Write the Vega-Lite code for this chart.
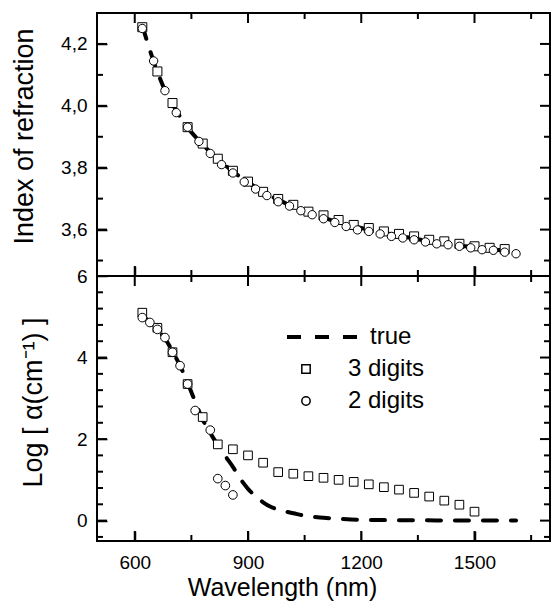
{
  "$schema": "https://vega.github.io/schema/vega-lite/v6.json",
  "padding": {"left": 8, "top": 12, "right": 4, "bottom": 4},
  "spacing": 0,
  "bounds": "flush",
  "background": "white",
  "datasets": {
    "n_true": [
      {"wl": 620, "n": 4.26}, {"wl": 640, "n": 4.18}, {"wl": 660, "n": 4.11}, {"wl": 680, "n": 4.05},
      {"wl": 700, "n": 4.005}, {"wl": 740, "n": 3.93}, {"wl": 780, "n": 3.875}, {"wl": 820, "n": 3.828},
      {"wl": 860, "n": 3.788}, {"wl": 900, "n": 3.753}, {"wl": 950, "n": 3.715}, {"wl": 1000, "n": 3.685},
      {"wl": 1050, "n": 3.658}, {"wl": 1100, "n": 3.638}, {"wl": 1150, "n": 3.62}, {"wl": 1200, "n": 3.605},
      {"wl": 1250, "n": 3.592}, {"wl": 1300, "n": 3.58}, {"wl": 1350, "n": 3.569}, {"wl": 1400, "n": 3.559},
      {"wl": 1450, "n": 3.55}, {"wl": 1500, "n": 3.543}, {"wl": 1550, "n": 3.536}, {"wl": 1610, "n": 3.528}
    ],
    "n3": [
      {"wl": 620, "n": 4.254}, {"wl": 660, "n": 4.111}, {"wl": 700, "n": 4.009}, {"wl": 740, "n": 3.931},
      {"wl": 780, "n": 3.878}, {"wl": 820, "n": 3.829}, {"wl": 860, "n": 3.79}, {"wl": 900, "n": 3.755},
      {"wl": 940, "n": 3.722}, {"wl": 980, "n": 3.699}, {"wl": 1020, "n": 3.68}, {"wl": 1060, "n": 3.658},
      {"wl": 1100, "n": 3.646}, {"wl": 1140, "n": 3.631}, {"wl": 1180, "n": 3.615}, {"wl": 1220, "n": 3.605},
      {"wl": 1260, "n": 3.594}, {"wl": 1300, "n": 3.586}, {"wl": 1340, "n": 3.578}, {"wl": 1380, "n": 3.567},
      {"wl": 1420, "n": 3.562}, {"wl": 1460, "n": 3.554}, {"wl": 1500, "n": 3.546}, {"wl": 1540, "n": 3.541},
      {"wl": 1580, "n": 3.537}
    ],
    "n2": [
      {"wl": 620, "n": 4.25}, {"wl": 650, "n": 4.145}, {"wl": 680, "n": 4.049}, {"wl": 710, "n": 3.978},
      {"wl": 740, "n": 3.931}, {"wl": 770, "n": 3.885}, {"wl": 800, "n": 3.846}, {"wl": 830, "n": 3.81},
      {"wl": 860, "n": 3.783}, {"wl": 890, "n": 3.754}, {"wl": 920, "n": 3.731}, {"wl": 950, "n": 3.71},
      {"wl": 980, "n": 3.69}, {"wl": 1010, "n": 3.676}, {"wl": 1040, "n": 3.661}, {"wl": 1070, "n": 3.648},
      {"wl": 1100, "n": 3.635}, {"wl": 1130, "n": 3.623}, {"wl": 1160, "n": 3.61}, {"wl": 1190, "n": 3.599},
      {"wl": 1220, "n": 3.594}, {"wl": 1250, "n": 3.586}, {"wl": 1280, "n": 3.578}, {"wl": 1310, "n": 3.573},
      {"wl": 1340, "n": 3.567}, {"wl": 1370, "n": 3.56}, {"wl": 1400, "n": 3.554}, {"wl": 1430, "n": 3.551},
      {"wl": 1460, "n": 3.546}, {"wl": 1490, "n": 3.541}, {"wl": 1520, "n": 3.535}, {"wl": 1550, "n": 3.533},
      {"wl": 1580, "n": 3.527}, {"wl": 1610, "n": 3.522}
    ],
    "a_true": [
      {"wl": 620, "la": 5.05}, {"wl": 640, "la": 4.86}, {"wl": 660, "la": 4.68}, {"wl": 680, "la": 4.47},
      {"wl": 700, "la": 4.15}, {"wl": 720, "la": 3.8}, {"wl": 740, "la": 3.38}, {"wl": 760, "la": 2.92},
      {"wl": 780, "la": 2.48}, {"wl": 800, "la": 2.15}, {"wl": 820, "la": 1.85}, {"wl": 840, "la": 1.58},
      {"wl": 860, "la": 1.32}, {"wl": 880, "la": 1.02}, {"wl": 900, "la": 0.78}, {"wl": 920, "la": 0.6},
      {"wl": 940, "la": 0.45}, {"wl": 960, "la": 0.34}, {"wl": 980, "la": 0.27}, {"wl": 1000, "la": 0.22},
      {"wl": 1020, "la": 0.18}, {"wl": 1050, "la": 0.12}, {"wl": 1100, "la": 0.07}, {"wl": 1150, "la": 0.04},
      {"wl": 1200, "la": 0.02}, {"wl": 1300, "la": 0.01}, {"wl": 1400, "la": 0.005}, {"wl": 1500, "la": 0.0},
      {"wl": 1610, "la": 0.0}
    ],
    "a_pts": [
      {"wl": 620, "la": 5.1, "series": "3 digits"}, {"wl": 660, "la": 4.73, "series": "3 digits"},
      {"wl": 700, "la": 4.13, "series": "3 digits"}, {"wl": 740, "la": 3.35, "series": "3 digits"},
      {"wl": 780, "la": 2.54, "series": "3 digits"}, {"wl": 820, "la": 1.87, "series": "3 digits"},
      {"wl": 860, "la": 1.75, "series": "3 digits"}, {"wl": 900, "la": 1.6, "series": "3 digits"},
      {"wl": 940, "la": 1.42, "series": "3 digits"}, {"wl": 980, "la": 1.19, "series": "3 digits"},
      {"wl": 1020, "la": 1.15, "series": "3 digits"}, {"wl": 1060, "la": 1.09, "series": "3 digits"},
      {"wl": 1100, "la": 1.05, "series": "3 digits"}, {"wl": 1140, "la": 1.0, "series": "3 digits"},
      {"wl": 1180, "la": 0.95, "series": "3 digits"}, {"wl": 1220, "la": 0.89, "series": "3 digits"},
      {"wl": 1260, "la": 0.82, "series": "3 digits"}, {"wl": 1300, "la": 0.76, "series": "3 digits"},
      {"wl": 1340, "la": 0.68, "series": "3 digits"}, {"wl": 1380, "la": 0.59, "series": "3 digits"},
      {"wl": 1420, "la": 0.49, "series": "3 digits"}, {"wl": 1460, "la": 0.39, "series": "3 digits"},
      {"wl": 1500, "la": 0.22, "series": "3 digits"},
      {"wl": 620, "la": 4.98, "series": "2 digits"}, {"wl": 640, "la": 4.86, "series": "2 digits"},
      {"wl": 660, "la": 4.69, "series": "2 digits"}, {"wl": 680, "la": 4.49, "series": "2 digits"},
      {"wl": 700, "la": 4.13, "series": "2 digits"}, {"wl": 720, "la": 3.8, "series": "2 digits"},
      {"wl": 740, "la": 3.35, "series": "2 digits"}, {"wl": 760, "la": 2.7, "series": "2 digits"},
      {"wl": 800, "la": 2.22, "series": "2 digits"}, {"wl": 820, "la": 1.03, "series": "2 digits"},
      {"wl": 840, "la": 0.86, "series": "2 digits"}, {"wl": 860, "la": 0.63, "series": "2 digits"}
    ],
    "xt_major": [{"v": 600}, {"v": 900}, {"v": 1200}, {"v": 1500}],
    "xt_minor": [{"v": 750}, {"v": 1050}, {"v": 1350}, {"v": 1650}],
    "yn_major": [{"v": 3.6}, {"v": 3.8}, {"v": 4.0}, {"v": 4.2}],
    "yn_minor": [{"v": 3.5}, {"v": 3.7}, {"v": 3.9}, {"v": 4.1}],
    "ya_major": [{"v": 0}, {"v": 2}, {"v": 4}],
    "ya_minor": [{"v": -0.4}, {"v": 0.4}, {"v": 0.8}, {"v": 1.2}, {"v": 1.6}, {"v": 2.4}, {"v": 2.8}, {"v": 3.2}, {"v": 3.6}, {"v": 4.4}, {"v": 4.8}, {"v": 5.2}, {"v": 5.6}]
  },
  "vconcat": [
    {
      "width": 453,
      "height": 263,
      "resolve": {"axis": {"x": "independent", "y": "independent"}},
      "layer": [
        {
          "data": {"name": "n_true"},
          "mark": {"type": "line", "stroke": "black", "strokeWidth": 4, "strokeDash": [14, 14], "strokeCap": "round", "interpolate": "monotone"},
          "encoding": {
            "x": {"field": "wl", "type": "quantitative", "scale": {"domain": [500, 1700], "nice": false, "zero": false},
                  "axis": {"orient": "bottom", "values": [600, 900, 1200, 1500], "labels": false, "title": null, "domain": false,
                           "ticks": true, "tickSize": -10, "tickColor": "black", "tickWidth": 1.5, "grid": false}},
            "y": {"field": "n", "type": "quantitative", "scale": {"domain": [3.45, 4.3], "nice": false, "zero": false},
                  "axis": {"orient": "left", "values": [3.6, 3.8, 4.0, 4.2], "labelPadding": 20, "format": ".1f", "domain": false,
                           "labelExpr": "replace(datum.label, '.', ',')",
                           "labelFont": "Liberation Sans", "labelFontSize": 19, "labelColor": "black",
                           "ticks": true, "tickSize": -10, "tickColor": "black", "tickWidth": 1.5, "grid": false,
                           "title": "Index of refraction", "titleFont": "Liberation Sans", "titleFontWeight": "normal", "titleColor": "black",
                           "titleFontSize": 27, "titleX": -65, "titleY": 123, "titleBaseline": "alphabetic"}}
          }
        },
        {
          "data": {"name": "n3"},
          "mark": {"type": "point", "shape": "square", "filled": true, "fill": "white", "stroke": "black", "strokeWidth": 1, "size": 81, "opacity": 1},
          "encoding": {
            "x": {"field": "wl", "type": "quantitative", "axis": null},
            "y": {"field": "n", "type": "quantitative", "axis": null}
          }
        },
        {
          "data": {"name": "n2"},
          "mark": {"type": "point", "shape": "circle", "filled": true, "fill": "white", "stroke": "black", "strokeWidth": 1, "size": 70, "opacity": 1},
          "encoding": {
            "x": {"field": "wl", "type": "quantitative", "axis": null},
            "y": {"field": "n", "type": "quantitative", "axis": null}
          }
        },
        {"data": {"name": "xt_major"}, "mark": {"type": "tick", "orient": "vertical", "color": "black", "thickness": 2, "size": 10, "yOffset": -5, "opacity": 1},
         "encoding": {"x": {"field": "v", "type": "quantitative", "axis": null}, "y": {"datum": 3.45, "type": "quantitative", "axis": null}}},
        {"data": {"name": "xt_minor"}, "mark": {"type": "tick", "orient": "vertical", "color": "black", "thickness": 2, "size": 6, "yOffset": -3, "opacity": 1},
         "encoding": {"x": {"field": "v", "type": "quantitative", "axis": null}, "y": {"datum": 3.45, "type": "quantitative", "axis": null}}},
        {"data": {"name": "xt_major"}, "mark": {"type": "tick", "orient": "vertical", "color": "black", "thickness": 2, "size": 10, "yOffset": 5, "opacity": 1},
         "encoding": {"x": {"field": "v", "type": "quantitative", "axis": null}, "y": {"datum": 4.3, "type": "quantitative", "axis": null}}},
        {"data": {"name": "xt_minor"}, "mark": {"type": "tick", "orient": "vertical", "color": "black", "thickness": 2, "size": 6, "yOffset": 3, "opacity": 1},
         "encoding": {"x": {"field": "v", "type": "quantitative", "axis": null}, "y": {"datum": 4.3, "type": "quantitative", "axis": null}}},
        {"data": {"name": "yn_major"}, "mark": {"type": "tick", "orient": "horizontal", "color": "black", "thickness": 2, "size": 10, "xOffset": 5, "opacity": 1},
         "encoding": {"y": {"field": "v", "type": "quantitative", "axis": null}, "x": {"datum": 500, "type": "quantitative", "axis": null}}},
        {"data": {"name": "yn_minor"}, "mark": {"type": "tick", "orient": "horizontal", "color": "black", "thickness": 2, "size": 6, "xOffset": 3, "opacity": 1},
         "encoding": {"y": {"field": "v", "type": "quantitative", "axis": null}, "x": {"datum": 500, "type": "quantitative", "axis": null}}},
        {"data": {"name": "yn_major"}, "mark": {"type": "tick", "orient": "horizontal", "color": "black", "thickness": 2, "size": 10, "xOffset": -5, "opacity": 1},
         "encoding": {"y": {"field": "v", "type": "quantitative", "axis": null}, "x": {"datum": 1700, "type": "quantitative", "axis": null}}},
        {"data": {"name": "yn_minor"}, "mark": {"type": "tick", "orient": "horizontal", "color": "black", "thickness": 2, "size": 6, "xOffset": -3, "opacity": 1},
         "encoding": {"y": {"field": "v", "type": "quantitative", "axis": null}, "x": {"datum": 1700, "type": "quantitative", "axis": null}}}
      ]
    },
    {
      "width": 453,
      "height": 265,
      "resolve": {"axis": {"x": "independent", "y": "independent"}},
      "layer": [
        {
          "data": {"name": "a_true"},
          "mark": {"type": "line", "strokeWidth": 4, "strokeDash": [14, 14], "strokeCap": "round", "interpolate": "monotone"},
          "encoding": {
            "x": {"field": "wl", "type": "quantitative", "scale": {"domain": [500, 1700], "nice": false, "zero": false},
                  "axis": {"orient": "bottom", "values": [600, 900, 1200, 1500], "labelPadding": 22, "format": "d", "domain": false,
                           "labelFont": "Liberation Sans", "labelFontSize": 19, "labelColor": "black",
                           "ticks": true, "tickSize": -10, "tickColor": "black", "tickWidth": 1.5, "grid": false,
                           "title": "Wavelength (nm)", "titleFont": "Liberation Sans", "titleFontWeight": "normal", "titleColor": "black",
                           "titleFontSize": 25, "titleX": 185, "titleY": 54, "titleBaseline": "alphabetic"}},
            "y": {"field": "la", "type": "quantitative", "scale": {"domain": [-0.5, 6], "nice": false, "zero": false},
                  "axis": {"orient": "left", "values": [0, 2, 4, 6], "labelPadding": 20, "domain": false,
                           "labelFont": "Liberation Sans", "labelFontSize": 19, "labelColor": "black",
                           "ticks": true, "tickSize": -10, "tickColor": "black", "tickWidth": 1.5, "grid": false,
                           "title": "Log [ α(cm⁻¹) ]", "titleFont": "Liberation Sans", "titleFontWeight": "normal", "titleColor": "black",
                           "titleFontSize": 27, "titleX": -56, "titleY": 126, "titleBaseline": "alphabetic"}},
            "stroke": {"datum": "true", "type": "nominal", "scale": {"domain": ["true"], "range": ["black"]},
                       "legend": {"orient": "none", "legendX": 188, "legendY": 21, "title": null, "symbolType": "stroke", "symbolSize": 5776,
                                  "symbolStrokeWidth": 4, "symbolDash": [14, 14],
                                  "labelFont": "Liberation Sans", "labelFontSize": 24, "labelColor": "black", "labelOffset": 5, "padding": 0}}
          }
        },
        {
          "data": {"name": "a_pts"},
          "mark": {"type": "point", "filled": true, "fill": "white", "stroke": "black", "strokeWidth": 1, "size": 75, "opacity": 1},
          "encoding": {
            "x": {"field": "wl", "type": "quantitative", "axis": null},
            "y": {"field": "la", "type": "quantitative", "axis": null},
            "shape": {"field": "series", "type": "nominal",
                      "scale": {"domain": ["3 digits", "2 digits"], "range": ["square", "circle"]},
                      "legend": {"orient": "none", "legendX": 197, "legendY": 81, "title": null, "symbolSize": 70,
                                 "labelFont": "Liberation Sans", "labelFontSize": 24, "labelColor": "black", "labelOffset": 30, "rowPadding": 8, "padding": 0,
                                 "encode": {"symbols": {"stroke": {"value": "black"}, "strokeWidth": {"value": 1}, "fill": {"value": "white"}}}}}
          }
        },
        {"data": {"name": "xt_major"}, "mark": {"type": "tick", "orient": "vertical", "color": "black", "thickness": 2, "size": 10, "yOffset": -5, "opacity": 1},
         "encoding": {"x": {"field": "v", "type": "quantitative", "axis": null}, "y": {"datum": -0.5, "type": "quantitative", "axis": null}}},
        {"data": {"name": "xt_minor"}, "mark": {"type": "tick", "orient": "vertical", "color": "black", "thickness": 2, "size": 6, "yOffset": -3, "opacity": 1},
         "encoding": {"x": {"field": "v", "type": "quantitative", "axis": null}, "y": {"datum": -0.5, "type": "quantitative", "axis": null}}},
        {"data": {"name": "xt_major"}, "mark": {"type": "tick", "orient": "vertical", "color": "black", "thickness": 2, "size": 10, "yOffset": 5, "opacity": 1},
         "encoding": {"x": {"field": "v", "type": "quantitative", "axis": null}, "y": {"datum": 6, "type": "quantitative", "axis": null}}},
        {"data": {"name": "xt_minor"}, "mark": {"type": "tick", "orient": "vertical", "color": "black", "thickness": 2, "size": 6, "yOffset": 3, "opacity": 1},
         "encoding": {"x": {"field": "v", "type": "quantitative", "axis": null}, "y": {"datum": 6, "type": "quantitative", "axis": null}}},
        {"data": {"name": "ya_major"}, "mark": {"type": "tick", "orient": "horizontal", "color": "black", "thickness": 2, "size": 10, "xOffset": 5, "opacity": 1},
         "encoding": {"y": {"field": "v", "type": "quantitative", "axis": null}, "x": {"datum": 500, "type": "quantitative", "axis": null}}},
        {"data": {"name": "ya_minor"}, "mark": {"type": "tick", "orient": "horizontal", "color": "black", "thickness": 2, "size": 6, "xOffset": 3, "opacity": 1},
         "encoding": {"y": {"field": "v", "type": "quantitative", "axis": null}, "x": {"datum": 500, "type": "quantitative", "axis": null}}},
        {"data": {"name": "ya_major"}, "mark": {"type": "tick", "orient": "horizontal", "color": "black", "thickness": 2, "size": 10, "xOffset": -5, "opacity": 1},
         "encoding": {"y": {"field": "v", "type": "quantitative", "axis": null}, "x": {"datum": 1700, "type": "quantitative", "axis": null}}},
        {"data": {"name": "ya_minor"}, "mark": {"type": "tick", "orient": "horizontal", "color": "black", "thickness": 2, "size": 6, "xOffset": -3, "opacity": 1},
         "encoding": {"y": {"field": "v", "type": "quantitative", "axis": null}, "x": {"datum": 1700, "type": "quantitative", "axis": null}}}
      ]
    }
  ],
  "resolve": {"legend": {"shape": "independent", "stroke": "independent"}},
  "config": {
    "view": {"stroke": "black", "strokeWidth": 2},
    "axis": {"domain": false, "tickColor": "black",
             "labelFont": "Liberation Sans", "labelFontSize": 19, "labelColor": "black",
             "titleFont": "Liberation Sans", "titleFontWeight": "normal", "titleColor": "black"}
  }
}
